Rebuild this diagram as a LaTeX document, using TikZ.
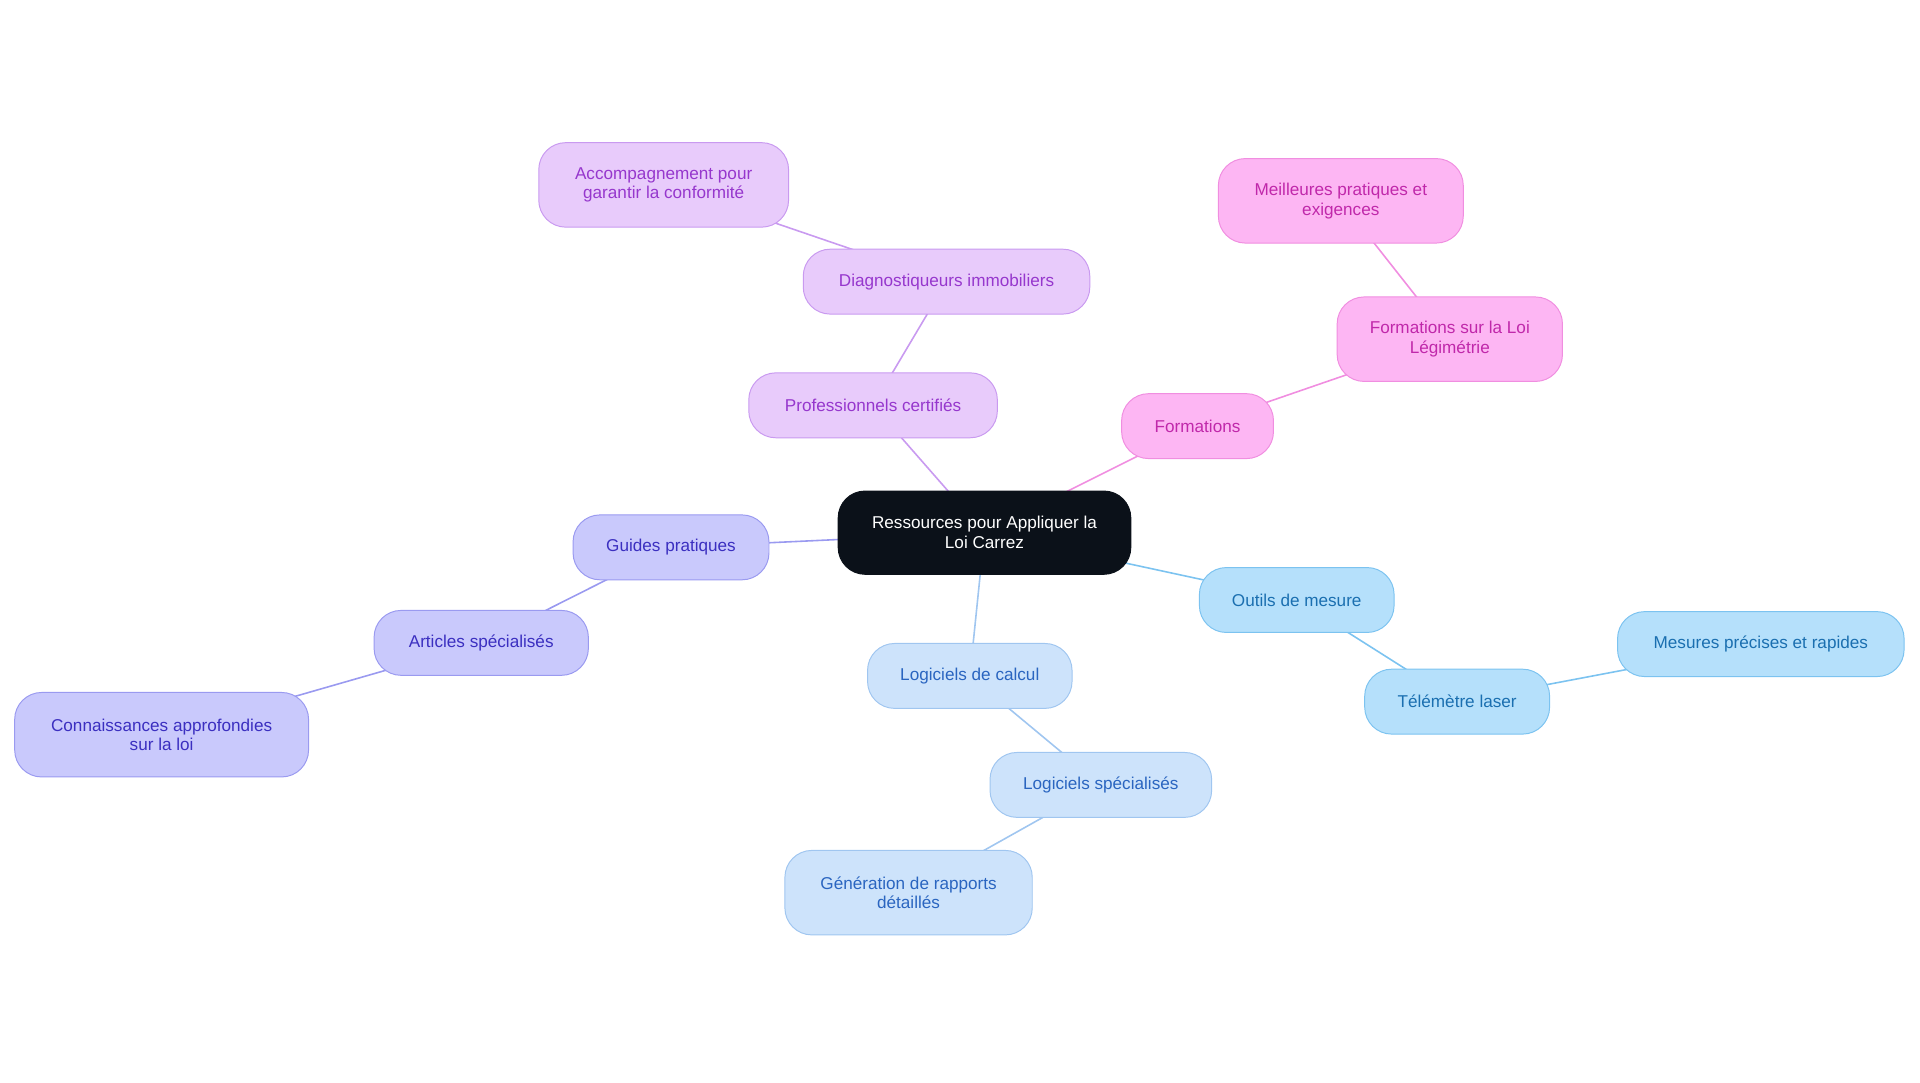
\documentclass[tikz,border=0pt]{standalone}
\usepackage{fontspec}
\setmainfont{Liberation Sans}
\begin{document}
\begin{tikzpicture}[x=1pt,y=-1pt,
 n/.style={draw,rounded corners=22pt,line width=0.8pt,align=center,inner sep=0pt,font=\fontsize{14}{16}\selectfont},
 pu/.style={n,fill={rgb,255:red,232;green,203;blue,251},draw={rgb,255:red,201;green,154;blue,240},text={rgb,255:red,150;green,55;blue,205}},
 pk/.style={n,fill={rgb,255:red,253;green,182;blue,243},draw={rgb,255:red,240;green,142;blue,224},text={rgb,255:red,192;green,40;blue,170}},
 ig/.style={n,fill={rgb,255:red,201;green,201;blue,252},draw={rgb,255:red,154;green,154;blue,240},text={rgb,255:red,59;green,47;blue,192}},
 lb/.style={n,fill={rgb,255:red,181;green,224;blue,251},draw={rgb,255:red,124;green,195;blue,240},text={rgb,255:red,26;green,111;blue,176}},
 pb/.style={n,fill={rgb,255:red,205;green,227;blue,251},draw={rgb,255:red,160;green,198;blue,240},text={rgb,255:red,42;green,101;blue,192}},
 e/.style={line width=1.3pt}]
\useasboundingbox (0,0) rectangle (1568,884);
\draw[e,draw={rgb,255:red,201;green,154;blue,240}] (804,435) -- (713,331) -- (773,230) -- (542,151);
\draw[e,draw={rgb,255:red,240;green,142;blue,224}] (804,435) -- (978,348) -- (1184,277) -- (1095,164);
\draw[e,draw={rgb,255:red,154;green,154;blue,240}] (804,435) -- (548,447) -- (393,525) -- (132,600);
\draw[e,draw={rgb,255:red,124;green,195;blue,240}] (804,435) -- (1059,490) -- (1190,573) -- (1438,526);
\draw[e,draw={rgb,255:red,160;green,198;blue,240}] (804,435) -- (792,552) -- (899,641) -- (742,729);
\node[n,fill={rgb,255:red,11;green,17;blue,25},draw={rgb,255:red,11;green,17;blue,25},text=white,minimum width=239pt,minimum height=68pt] (root) at (804,435) {Ressources pour Appliquer la\\Loi Carrez};
\node[pu,minimum width=203pt,minimum height=53pt] (pc) at (713,331) {Professionnels certifiés};
\node[pu,minimum width=234pt,minimum height=53pt] (di) at (773,230) {Diagnostiqueurs immobiliers};
\node[pu,minimum width=204pt,minimum height=69pt] (ac) at (542,151) {Accompagnement pour\\garantir la conformité};
\node[pk,minimum width=124pt,minimum height=53pt] (fo) at (978,348) {Formations};
\node[pk,minimum width=184pt,minimum height=69pt] (fl) at (1184,277) {Formations sur la Loi\\Légimétrie};
\node[pk,minimum width=200pt,minimum height=69pt] (mp) at (1095,164) {Meilleures pratiques et\\exigences};
\node[ig,minimum width=160pt,minimum height=53pt] (gp) at (548,447) {Guides pratiques};
\node[ig,minimum width=175pt,minimum height=53pt] (as) at (393,525) {Articles spécialisés};
\node[ig,minimum width=240pt,minimum height=69pt] (ca) at (132,600) {Connaissances approfondies\\sur la loi};
\node[lb,minimum width=159pt,minimum height=53pt] (om) at (1059,490) {Outils de mesure};
\node[lb,minimum width=151pt,minimum height=53pt] (tl) at (1190,573) {Télémètre laser};
\node[lb,minimum width=234pt,minimum height=53pt] (me) at (1438,526) {Mesures précises et rapides};
\node[pb,minimum width=167pt,minimum height=53pt] (lc) at (792,552) {Logiciels de calcul};
\node[pb,minimum width=181pt,minimum height=53pt] (ls) at (899,641) {Logiciels spécialisés};
\node[pb,minimum width=202pt,minimum height=69pt] (ge) at (742,729) {Génération de rapports\\détaillés};
\end{tikzpicture}
\end{document}
